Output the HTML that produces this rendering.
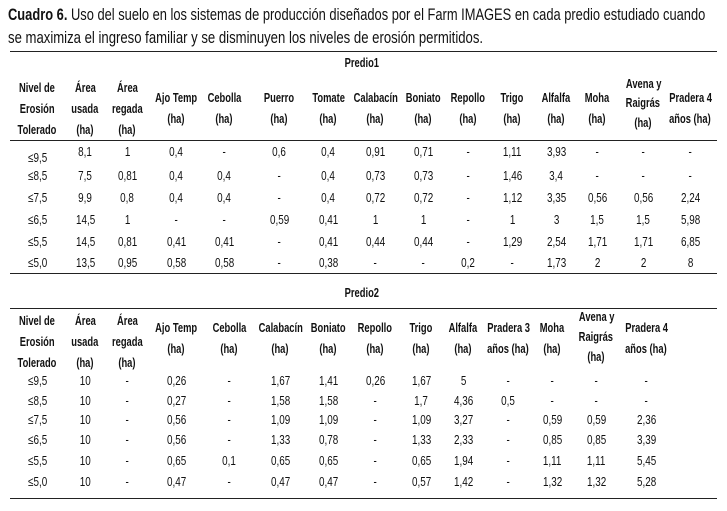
<!DOCTYPE html>
<html><head><meta charset="utf-8"><style>
body{margin:0;width:727px;height:511px;background:#fff;position:relative;overflow:hidden;font-family:"Liberation Sans",sans-serif;color:#111}
.t{position:absolute;white-space:nowrap;font-size:13px;line-height:13px;transform-origin:center center}
.ttl{position:absolute;white-space:nowrap;font-size:17px;line-height:17px;transform-origin:left center;left:8px}
.ln{position:absolute;left:10px;width:707px;height:1px;background:#222}
</style></head><body>
<div class="ttl" id="t1" style="top:6px"><b>Cuadro 6.</b> Uso del suelo en los sistemas de producción diseñados por el Farm IMAGES en cada predio estudiado cuando</div>
<div class="ttl" id="t2" style="top:29px">se maximiza el ingreso familiar y se disminuyen los niveles de erosión permitidos.</div>
<div class="ln" style="top:51px"></div>
<div class="ln" style="top:140px"></div>
<div class="ln" style="top:273px"></div>
<div class="ln" style="top:308px"></div>
<div class="ln" style="top:498px"></div>
<script>
function fit(id,w){var e=document.getElementById(id);var n=e.offsetWidth;e.style.transform='scaleX('+(w/n)+')';}
fit('t1',697);fit('t2',475);
function T(x,y,s,b){var d=document.createElement('div');d.className='t';d.textContent=s;if(b)d.style.fontWeight='bold';document.body.appendChild(d);var w=d.offsetWidth;d.style.left=(x-w/2)+'px';d.style.top=(y-6.5)+'px';d.style.transform='scaleX('+(b?0.72:0.76)+')';}
T(362,62,'Predio1',1);T(362,292,'Predio2',1);
function hdr(cols,heads,ys3,y2,yAv){
 heads.forEach(function(h,i){var x=cols[i];var n=h.length;var ys=n==3?ys3:(n==2?y2:[ys3[1]]);if(h.av)ys=yAv;h.forEach(function(s,j){T(x,ys[j],s,1);});});
}
var c1=[37,85,127,176,224,279,328,375,423,468,512,556,597,643,690];
var h1=[["Nivel de","Erosión","Tolerado"],["Área","usada","(ha)"],["Área","regada","(ha)"],["Ajo Temp","(ha)"],["Cebolla","(ha)"],["Puerro","(ha)"],["Tomate","(ha)"],["Calabacín","(ha)"],["Boniato","(ha)"],["Repollo","(ha)"],["Trigo","(ha)"],["Alfalfa","(ha)"],["Moha","(ha)"],["Avena y","Raigrás","(ha)"],["Pradera 4","años (ha)"]];
h1[13].av=1;
hdr(c1,h1,[87,108,129],[97,118],[83,102,122]);
var r1=[["≤9,5","8,1","1","0,4","-","0,6","0,4","0,91","0,71","-","1,11","3,93","-","-","-"],
["≤8,5","7,5","0,81","0,4","0,4","-","0,4","0,73","0,73","-","1,46","3,4","-","-","-"],
["≤7,5","9,9","0,8","0,4","0,4","-","0,4","0,72","0,72","-","1,12","3,35","0,56","0,56","2,24"],
["≤6,5","14,5","1","-","-","0,59","0,41","1","1","-","1","3","1,5","1,5","5,98"],
["≤5,5","14,5","0,81","0,41","0,41","-","0,41","0,44","0,44","-","1,29","2,54","1,71","1,71","6,85"],
["≤5,0","13,5","0,95","0,58","0,58","-","0,38","-","-","0,2","-","1,73","2","2","8"]];
var y1=[151,175,197,219,241,262];
r1.forEach(function(r,i){r.forEach(function(s,j){T(c1[j],(i==0&&j==0)?157:y1[i],s);});});
var c2=[37,85,127,176,229,280,328,375,421,463,508,552,596,646];
var h2=[["Nivel de","Erosión","Tolerado"],["Área","usada","(ha)"],["Área","regada","(ha)"],["Ajo Temp","(ha)"],["Cebolla","(ha)"],["Calabacín","(ha)"],["Boniato","(ha)"],["Repollo","(ha)"],["Trigo","(ha)"],["Alfalfa","(ha)"],["Pradera 3","años (ha)"],["Moha","(ha)"],["Avena y","Raigrás","(ha)"],["Pradera 4","años (ha)"]];
h2[12].av=1;
hdr(c2,h2,[320,341,362],[327,348],[316,336,356]);
var r2=[["≤9,5","10","-","0,26","-","1,67","1,41","0,26","1,67","5","-","-","-","-"],
["≤8,5","10","-","0,27","-","1,58","1,58","-","1,7","4,36","0,5","-","-","-"],
["≤7,5","10","-","0,56","-","1,09","1,09","-","1,09","3,27","-","0,59","0,59","2,36"],
["≤6,5","10","-","0,56","-","1,33","0,78","-","1,33","2,33","-","0,85","0,85","3,39"],
["≤5,5","10","-","0,65","0,1","0,65","0,65","-","0,65","1,94","-","1,11","1,11","5,45"],
["≤5,0","10","-","0,47","-","0,47","0,47","-","0,57","1,42","-","1,32","1,32","5,28"]];
var y2=[380,400,419,439,460,481];
r2.forEach(function(r,i){r.forEach(function(s,j){T(c2[j],y2[i],s);});});
</script>
</body></html>
